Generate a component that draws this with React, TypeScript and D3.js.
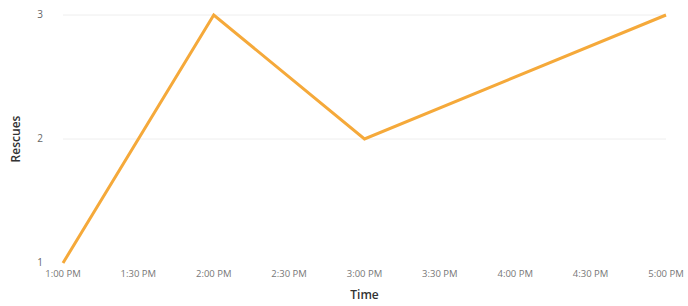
import * as d3 from "d3";

const times = ["13:00", "14:00", "15:00", "17:00"];
const rescues = [1, 3, 2, 3];
const yTicks = [1, 2, 3];

const parse = d3.timeParse("%H:%M");

export default function App() {
  const width = 688;
  const height = 306;
  const margin = { top: 15, right: 22, bottom: 43, left: 63 };
  const data = times.map((t, i) => ({ date: parse(t) as Date, value: rescues[i] }));

  const x = d3
    .scaleTime()
    .domain([parse("13:00") as Date, parse("17:00") as Date])
    .range([margin.left, width - margin.right]);
  const y = d3.scaleLinear().domain([1, 3]).range([height - margin.bottom, margin.top]);

  const xTicks = x.ticks(d3.timeMinute.every(30) as d3.TimeInterval);
  const fmt = d3.timeFormat("%-I:%M %p");
  const line = d3
    .line<{ date: Date; value: number }>()
    .x((d) => x(d.date))
    .y((d) => y(d.value));

  const font = "'Open Sans', 'Noto Sans', sans-serif";

  return (
    <svg
      width={width}
      height={height}
      style={{ position: "absolute", left: 0, top: 0, fontFamily: font }}
    >
      {yTicks.slice(1).map((t) => (
        <line
          key={t}
          x1={margin.left}
          x2={width - margin.right}
          y1={y(t)}
          y2={y(t)}
          stroke="#eeeeee"
          strokeWidth={1}
        />
      ))}
      {yTicks.map((t) => (
        <text
          key={t}
          x={margin.left - 20}
          y={y(t)}
          dy="0.32em"
          textAnchor="end"
          fontSize={10}
          fill="#666"
        >
          {t}
        </text>
      ))}
      {xTicks.map((t) => (
        <text
          key={+t}
          x={x(t)}
          y={height - margin.bottom + 14}
          textAnchor="middle"
          fontSize={9.5}
          fill="#777"
        >
          {fmt(t)}
        </text>
      ))}
      <path d={line(data) ?? undefined} fill="none" stroke="#f5a93a" strokeWidth={3} strokeLinejoin="miter" />
      <text
        x={(margin.left + width - margin.right) / 2}
        y={height - 7}
        textAnchor="middle"
        fontSize={12}
        fontWeight={600}
        fill="#333"
      >
        Time
      </text>
      <text
        transform={`translate(20, ${(margin.top + height - margin.bottom) / 2}) rotate(-90)`}
        textAnchor="middle"
        fontSize={12}
        fontWeight={600}
        fill="#333"
      >
        Rescues
      </text>
    </svg>
  );
}
